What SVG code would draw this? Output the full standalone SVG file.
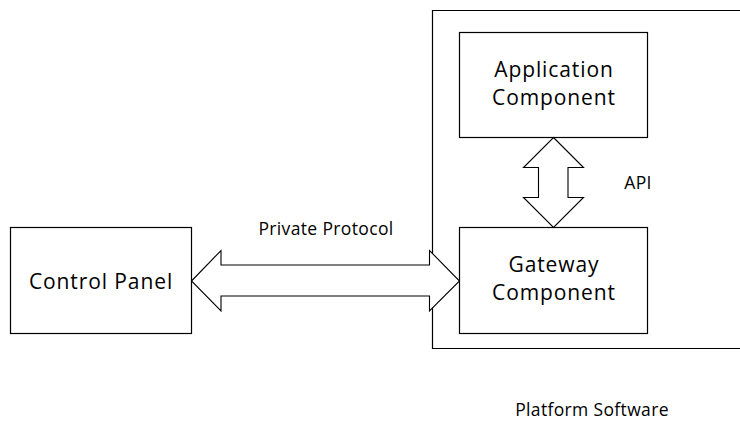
<svg xmlns="http://www.w3.org/2000/svg" width="740" height="421" viewBox="0 0 740 421">
  <style>
    .box { fill: #ffffff; stroke: #000000; stroke-width: 1.2; }
    .frame { fill: none; stroke: #000000; stroke-width: 1.2; }
    .arrow { fill: #ffffff; stroke: #000000; stroke-width: 1.1; stroke-linejoin: miter; }
    .lbl { font-family: "Open Sans", "Liberation Sans", sans-serif; font-size: 21px; fill: #000000; text-anchor: middle; letter-spacing: 0.9px; }
    .sm { font-family: "Open Sans", "Liberation Sans", sans-serif; font-size: 17.5px; fill: #000000; text-anchor: middle; letter-spacing: 0.35px; }
  </style>
  <rect width="740" height="421" fill="#ffffff"/>

  <!-- Platform software boundary (open to the right) -->
  <g id="platform">
    <path class="frame" d="M745 10.5 H432.5 V348.5 H745"/>
    <text class="sm" x="592" y="416">Platform Software</text>
  </g>

  <g id="control-panel">
    <rect class="box" x="10.5" y="227.5" width="181" height="106"/>
    <text class="lbl" x="101" y="289">Control Panel</text>
  </g>

  <g id="application-component">
    <rect class="box" x="459.5" y="32.5" width="188" height="105"/>
    <text class="lbl" x="554" y="77">Application</text>
    <text class="lbl" x="554" y="105">Component</text>
  </g>

  <g id="gateway-component">
    <rect class="box" x="459.5" y="227.5" width="188" height="106"/>
    <text class="lbl" x="554" y="272">Gateway</text>
    <text class="lbl" x="554" y="300">Component</text>
  </g>

  <g id="connectors">
    <!-- Private Protocol: wide double-headed arrow -->
    <path class="arrow" d="M191.5 281 L221 250.5 V265 H429.5 V250.5 L459.5 281 L429.5 311 V296 H221 V311 Z"/>
    <text class="sm" x="326" y="235">Private Protocol</text>
    <!-- API: vertical double-headed arrow -->
    <path class="arrow" d="M553.5 137.5 L583.5 167.5 H568 V197.5 H583.5 L553.5 227.5 L523.5 197.5 H538.5 V167.5 H523.5 Z"/>
    <text class="sm" x="638" y="189">API</text>
  </g>
</svg>
